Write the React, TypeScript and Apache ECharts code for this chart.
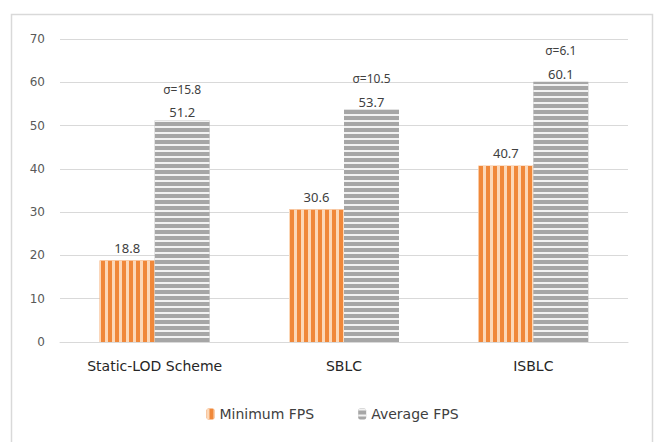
import React, { useEffect, useRef } from "react";
import * as echarts from "echarts";

const categories = ["Static-LOD Scheme", "SBLC", "ISBLC"];
const minimumFps = [18.8, 30.6, 40.7];
const averageFps = [51.2, 53.7, 60.1];
const sigmas = [15.8, 10.5, 6.1];
const yTicks = { min: 0, max: 70, interval: 10 };

export default function App() {
  const ref = useRef<HTMLDivElement>(null);
  useEffect(() => {
    if (!ref.current) return;
    const chart = echarts.init(ref.current, null, { renderer: "svg" });
    const font = "'DejaVu Sans', 'Noto Sans', sans-serif";
    const font2 = "'Noto Sans', 'Open Sans', sans-serif";
    chart.setOption({
      animation: false,
      backgroundColor: "#ffffff",
      textStyle: { fontFamily: font },
      graphic: [
        {
          type: "rect",
          shape: { x: 11.5, y: 14.5, width: 641, height: 440 },
          style: { fill: "none", stroke: "#d9d9d9", lineWidth: 1.5 },
          silent: true,
        },
      ],
      grid: { left: 60, right: 37, top: 39, bottom: 100 },
      legend: {
        bottom: 16,
        left: "center",
        itemGap: 44,
        itemWidth: 8,
        itemHeight: 11,
        textStyle: { fontSize: 14, color: "#404040", fontFamily: font },
        data: ["Minimum FPS", "Average FPS"],
      },
      xAxis: {
        type: "category",
        data: categories,
        axisLine: { lineStyle: { color: "#d9d9d9" } },
        axisTick: { show: false },
        axisLabel: { color: "#262626", fontSize: 14, margin: 17, fontFamily: font },
      },
      yAxis: {
        type: "value",
        min: yTicks.min,
        max: yTicks.max,
        interval: yTicks.interval,
        axisLine: { show: false },
        axisTick: { show: false },
        splitLine: { lineStyle: { color: "#d9d9d9" } },
        axisLabel: { color: "#595959", fontSize: 12, margin: 15, fontFamily: font },
      },
      series: [
        {
          name: "Minimum FPS",
          type: "bar",
          data: minimumFps,
          barWidth: 55,
          barGap: "0%",
          itemStyle: {
            color: "#f0883a",
            decal: {
              symbol: "rect",
              symbolSize: 1,
              dashArrayX: [3, 4],
              dashArrayY: [1, 0],
              color: "#fcd8b8",
            },
          },
          label: {
            show: true,
            position: "top",
            distance: 6,
            color: "#404040",
            fontSize: 13,
            fontFamily: font2,
          },
        },
        {
          name: "Average FPS",
          type: "bar",
          data: averageFps,
          barWidth: 55,
          itemStyle: {
            color: "#a6a6a6",
            decal: {
              symbol: "rect",
              symbolSize: 1,
              dashArrayX: [1, 0],
              dashArrayY: [2, 4],
              color: "#f2f2f2",
            },
          },
          label: {
            show: true,
            position: "top",
            distance: 0,
            formatter: (p: any) => `{s|σ=${sigmas[p.dataIndex]}}\n{v|${p.value}}`,
            rich: {
              s: { color: "#404040", fontSize: 12, lineHeight: 30, fontFamily: font2 },
              v: { color: "#404040", fontSize: 13, lineHeight: 16, fontFamily: font2 },
            },
          },
        },
      ],
    });
    return () => chart.dispose();
  }, []);
  return (
    <div
      ref={ref}
      style={{ position: "fixed", left: 0, top: 0, width: 665, height: 442 }}
    />
  );
}
